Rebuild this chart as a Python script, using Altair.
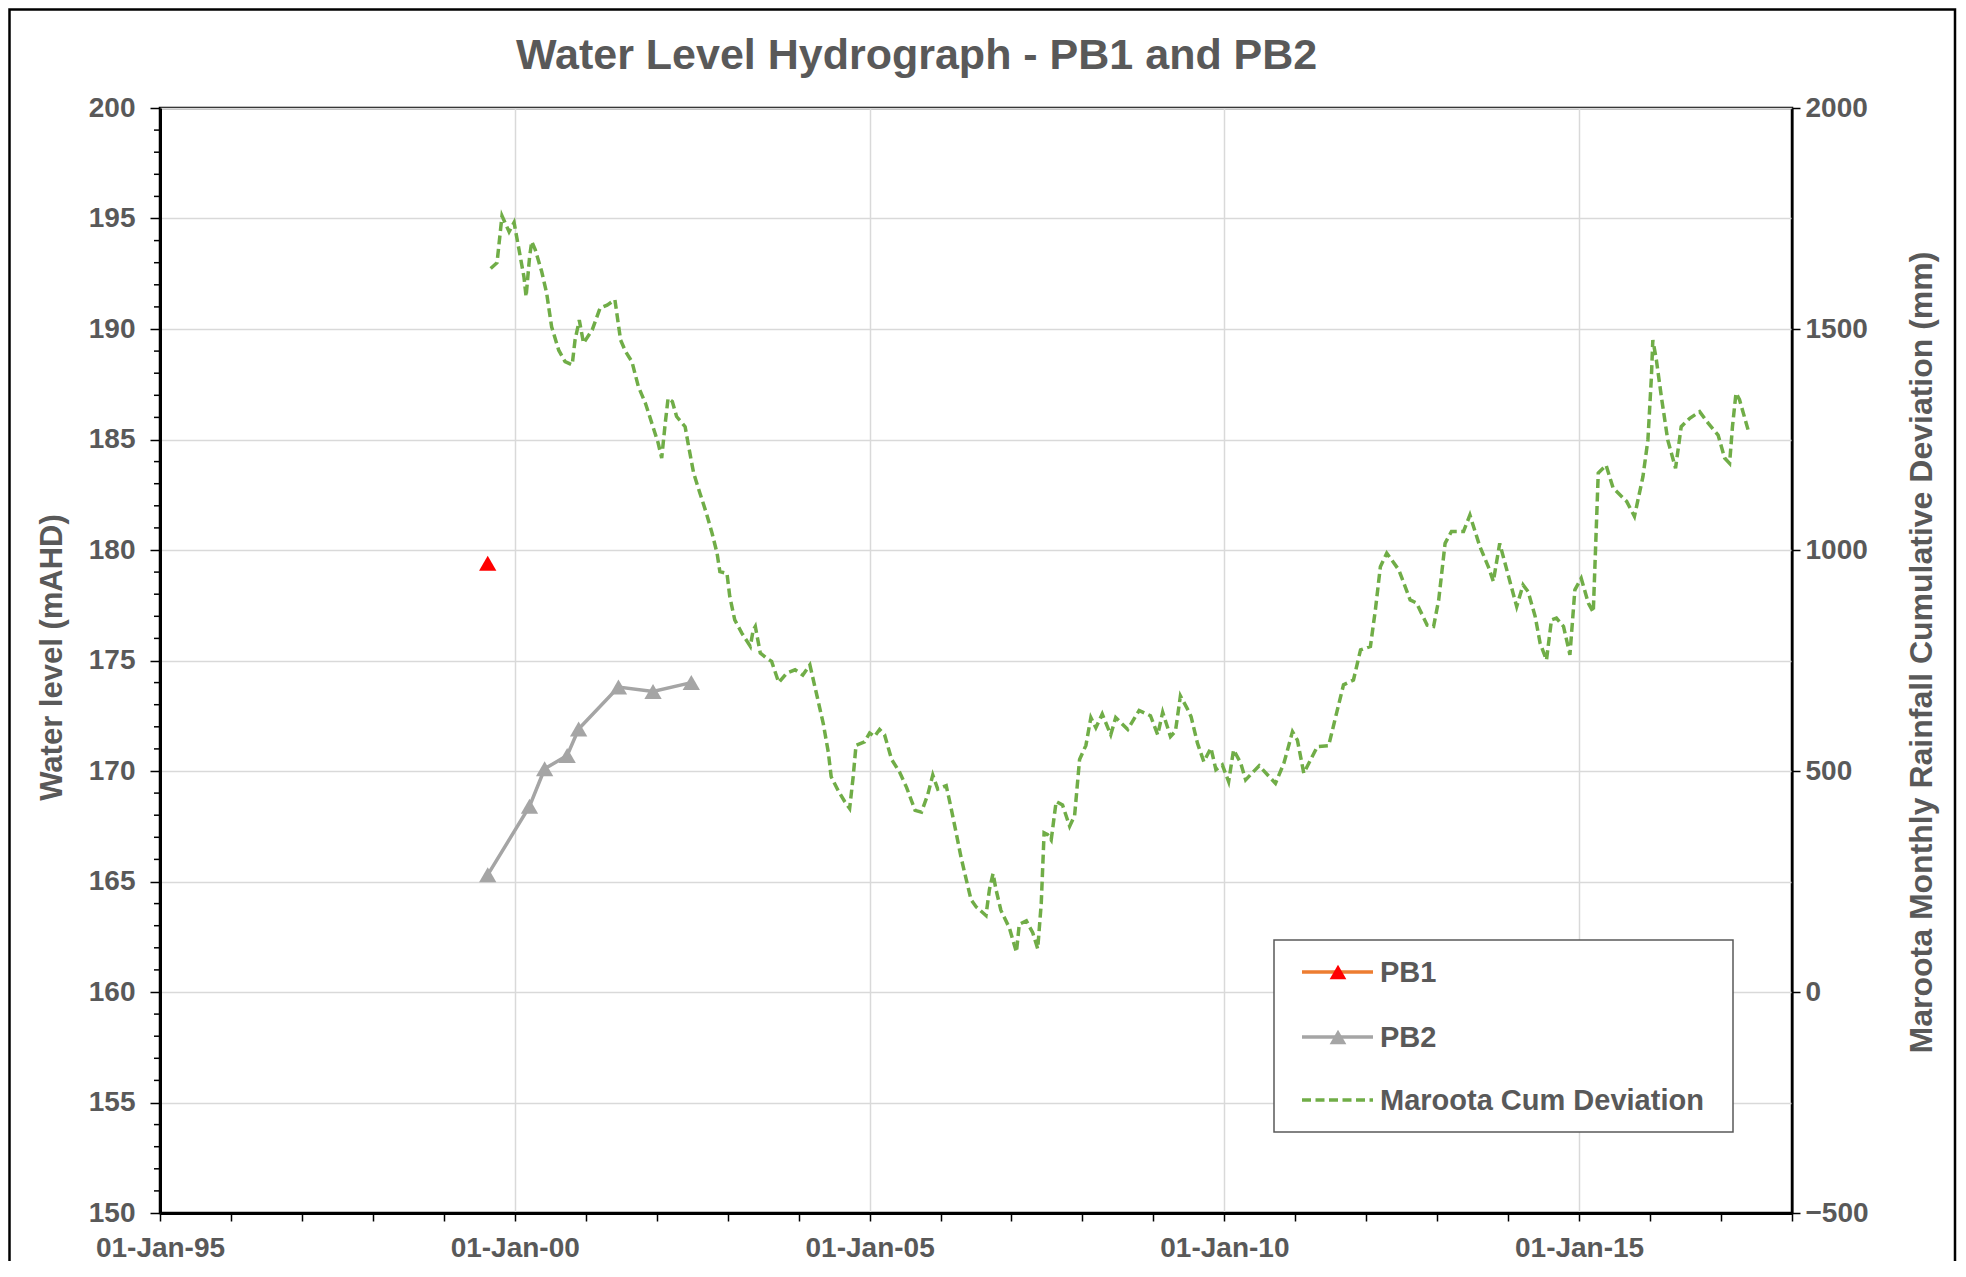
import altair as alt
import pandas as pd

TITLE = "Water Level Hydrograph - PB1 and PB2"
LEFT_TITLE = "Water level (mAHD)"
RIGHT_TITLE = "Maroota Monthly Rainfall Cumulative Deviation (mm)"
FONT = "Liberation Sans"
TEXT_COLOR = "#595959"

# ---- data ----
pb1_dates = ["1999-08-15"]
pb1_levels = [179.4]

pb2_dates = ["1999-08-15", "2000-03-17", "2000-06-03", "2000-09-27",
             "2000-11-25", "2001-06-18", "2001-12-13", "2002-06-28"]
pb2_levels = [165.3, 168.4, 170.1, 170.7, 171.9, 173.8, 173.6, 174.0]

cum_dev_years = [
    1999.66, 1999.75, 1999.82, 1999.92, 1999.99, 2000.13, 2000.16, 2000.21, 2000.24, 2000.29,
    2000.38, 2000.45, 2000.52, 2000.62, 2000.71, 2000.81, 2000.85, 2000.91, 2000.97, 2001.09,
    2001.20, 2001.30, 2001.41, 2001.49, 2001.56, 2001.65, 2001.74, 2001.84, 2001.93, 2002.02,
    2002.07, 2002.12, 2002.16, 2002.22, 2002.28, 2002.40, 2002.45, 2002.52, 2002.61, 2002.70,
    2002.78, 2002.85, 2002.89, 2002.99, 2003.03, 2003.10, 2003.20, 2003.32, 2003.36, 2003.39,
    2003.46, 2003.55, 2003.62, 2003.72, 2003.83, 2003.95, 2004.06, 2004.16, 2004.25, 2004.35,
    2004.42, 2004.46, 2004.56, 2004.65, 2004.72, 2004.77, 2004.81, 2004.93, 2005.00, 2005.07,
    2005.14, 2005.21, 2005.31, 2005.42, 2005.52, 2005.64, 2005.73, 2005.82, 2005.89, 2005.96,
    2006.08, 2006.15, 2006.22, 2006.29, 2006.36, 2006.43, 2006.50, 2006.64, 2006.69, 2006.74,
    2006.78, 2006.85, 2006.97, 2007.07, 2007.11, 2007.21, 2007.30, 2007.37, 2007.42, 2007.44,
    2007.46, 2007.51, 2007.56, 2007.63, 2007.72, 2007.82, 2007.89, 2007.96, 2008.05, 2008.12,
    2008.19, 2008.28, 2008.40, 2008.47, 2008.64, 2008.80, 2008.96, 2009.06, 2009.13, 2009.24,
    2009.31, 2009.38, 2009.48, 2009.53, 2009.62, 2009.71, 2009.81, 2009.88, 2009.97, 2010.06,
    2010.13, 2010.23, 2010.30, 2010.49, 2010.72, 2010.84, 2010.96, 2011.03, 2011.12, 2011.31,
    2011.47, 2011.57, 2011.68, 2011.82, 2011.92, 2012.06, 2012.13, 2012.20, 2012.29, 2012.46,
    2012.62, 2012.71, 2012.86, 2012.95, 2013.02, 2013.11, 2013.20, 2013.37, 2013.46, 2013.60,
    2013.72, 2013.79, 2013.88, 2013.98, 2014.12, 2014.21, 2014.28, 2014.38, 2014.45, 2014.54,
    2014.61, 2014.68, 2014.78, 2014.87, 2014.94, 2015.03, 2015.13, 2015.20, 2015.27, 2015.38,
    2015.48, 2015.67, 2015.78, 2015.90, 2015.97, 2016.02, 2016.04, 2016.09, 2016.16, 2016.25,
    2016.36, 2016.44, 2016.56, 2016.70, 2016.82, 2016.96, 2017.05, 2017.12, 2017.16, 2017.21,
    2017.26, 2017.38,
]
cum_dev_mm = [
    1637, 1650, 1756, 1720, 1741, 1618, 1573, 1664, 1698, 1679,
    1630, 1581, 1505, 1452, 1426, 1419, 1475, 1520, 1468, 1498,
    1547, 1554, 1566, 1475, 1449, 1426, 1370, 1332, 1287, 1242,
    1208, 1287, 1343, 1336, 1302, 1279, 1234, 1174, 1128, 1083,
    1038, 993, 951, 947, 895, 842, 812, 782, 819, 827,
    767, 755, 748, 700, 721, 729, 717, 740, 677, 606,
    542, 487, 455, 431, 415, 487, 558, 566, 586, 578,
    594, 582, 526, 498, 463, 411, 407, 447, 491, 459,
    467, 415, 360, 304, 256, 209, 193, 173, 233, 268,
    233, 185, 145, 90, 153, 161, 134, 98, 201, 280,
    360, 356, 344, 431, 423, 375, 399, 526, 558, 621,
    598, 629, 582, 621, 594, 637, 625, 582, 633, 578,
    590, 670, 640, 623, 563, 521, 552, 503, 514, 476,
    548, 518, 480, 512, 472, 518, 589, 570, 495, 555,
    557, 623, 695, 706, 774, 782, 865, 962, 993, 955,
    887, 880, 830, 827, 887, 1015, 1042, 1042, 1079, 1008,
    962, 929, 1015, 955, 872, 921, 906, 850, 789, 751,
    842, 846, 827, 763, 910, 936, 880, 859, 1174, 1192,
    1140, 1110, 1076, 1166, 1249, 1392, 1475, 1430, 1347, 1249,
    1185, 1279, 1298, 1313, 1287, 1260, 1208, 1196, 1279, 1355,
    1340, 1272,
]

legend_labels = ["PB1", "PB2", "Maroota Cum Deviation"]

left_major_ticks = list(range(150, 201, 5))
left_minor_ticks = [v for v in range(150, 201) if v % 5 != 0]
right_ticks = [-500, 0, 500, 1000, 1500, 2000]
x_tick_years = list(range(1995, 2019))


def year_to_date(y):
    base = pd.Timestamp(int(y), 1, 1)
    return base + pd.Timedelta(days=(y - int(y)) * 365.25)


pb1_df = pd.DataFrame({"date": pd.to_datetime(pb1_dates), "value": pb1_levels})
pb2_df = pd.DataFrame({"date": pd.to_datetime(pb2_dates), "value": pb2_levels})
cum_df = pd.DataFrame({"date": [year_to_date(y) for y in cum_dev_years], "value": cum_dev_mm})
minor_df = pd.DataFrame({"value": left_minor_ticks})

# ---- layout ----
W, H = 1632, 1105
GRID = "#D9D9D9"
LABEL_STYLE = dict(labelFont=FONT, labelFontSize=28, labelFontWeight="bold", labelColor=TEXT_COLOR)
TITLE_STYLE = dict(titleFont=FONT, titleFontSize=31, titleFontWeight="bold", titleColor=TEXT_COLOR)

x_axis = alt.Axis(
    values=[alt.DateTime(year=y, month=1, date=1) for y in x_tick_years],
    labelExpr="year(datum.value) % 5 === 0 ? timeFormat(datum.value, '%d-%b-%y') : ''",
    labelOverlap=False, labelFlush=False,
    tickSize=8, tickColor="black", tickWidth=1.5,
    labelPadding=13,
    domainColor="black", domainWidth=3,
    grid=True, gridColor=GRID, gridWidth=1.5,
    gridOpacity={"condition": {"test": "year(datum.value) % 5 === 0", "value": 1}, "value": 0},
    title=None, **LABEL_STYLE,
)
x_enc = alt.X(
    "date:T",
    scale=alt.Scale(domain=[alt.DateTime(year=1995, month=1, date=1),
                            alt.DateTime(year=2018, month=1, date=1)]),
    axis=x_axis,
)

left_axis = alt.Axis(
    orient="left", values=left_major_ticks, format="d",
    tickSize=10, tickColor="black", tickWidth=1.5,
    labelPadding=15, labelFlush=False, labelOverlap=False,
    domainColor="black", domainWidth=3,
    grid=True, gridColor=GRID, gridWidth=1.5,
    title=LEFT_TITLE, titleX=-108, titleY=549, titleAngle=270,
    titleAlign="center", titleBaseline="middle", **LABEL_STYLE, **TITLE_STYLE,
)
y_left = alt.Y("value:Q", scale=alt.Scale(domain=[150, 200], nice=False, zero=False), axis=left_axis)

right_axis = alt.Axis(
    orient="right", values=right_ticks, format="d",
    tickSize=8, tickColor="black", tickWidth=1.5,
    labelPadding=5, labelFlush=False, labelOverlap=False,
    domainColor="black", domainWidth=2, grid=False,
    title=RIGHT_TITLE, titleX=129, titleY=544, titleAngle=270,
    titleAlign="center", titleBaseline="middle",
    titleFont=FONT, titleFontSize=32, titleFontWeight="bold", titleColor=TEXT_COLOR,
    **LABEL_STYLE,
)
y_right = alt.Y("value:Q", scale=alt.Scale(domain=[-500, 2000], nice=False, zero=False), axis=right_axis)

pb2_line = alt.Chart(pb2_df).mark_line(color="#A5A5A5", strokeWidth=3.5).encode(x=x_enc, y=y_left)
pb2_pts = alt.Chart(pb2_df).mark_point(shape="triangle-up", filled=True, opacity=1,
                                       color="#A5A5A5", size=300).encode(x=x_enc, y=y_left)
pb1_pts = alt.Chart(pb1_df).mark_point(shape="triangle-up", filled=True, opacity=1,
                                       color="#FF0000", size=300).encode(x=x_enc, y=y_left)
minor_ticks = alt.Chart(minor_df).mark_rule(color="black", strokeWidth=1.5).encode(
    y=y_left, x=alt.value(-6), x2=alt.value(0))

left_layer = alt.layer(pb2_line, pb2_pts, pb1_pts, minor_ticks)

cum_line = alt.Chart(cum_df).mark_line(color="#70AD47", strokeWidth=3.5, strokeDash=[9, 4.5]).encode(
    x=x_enc, y=y_right)

# ---- frame, title and legend (decoration) ----
one = pd.DataFrame({"k": [0]})
frame = alt.Chart(one).mark_rect(filled=False, stroke="black", strokeWidth=2.5).encode(
    x=alt.value(-150.5), x2=alt.value(1795), y=alt.value(-98.5), y2=alt.value(1300))

title_df = pd.DataFrame({"t": [TITLE]})
title_mark = alt.Chart(title_df).mark_text(
    align="left", baseline="alphabetic", font=FONT, fontSize=43, fontWeight="bold",
    color=TEXT_COLOR).encode(text="t:N", x=alt.value(356), y=alt.value(-39))

legend_box = alt.Chart(one).mark_rect(fill="white", stroke="#595959", strokeWidth=1.5).encode(
    x=alt.value(1114), x2=alt.value(1573), y=alt.value(832), y2=alt.value(1024))

row_y = [864, 929, 992]
line_colors = ["#ED7D31", "#A5A5A5", "#70AD47"]
marker_colors = ["#FF0000", "#A5A5A5", None]
legend_layers = [legend_box]
for i, lab in enumerate(legend_labels):
    d = pd.DataFrame({"label": [lab]})
    rule_kwargs = dict(color=line_colors[i], strokeWidth=3.5)
    if i == 2:
        rule_kwargs["strokeDash"] = [9, 4.5]
    legend_layers.append(alt.Chart(d).mark_rule(**rule_kwargs).encode(
        x=alt.value(1142), x2=alt.value(1213), y=alt.value(row_y[i])))
    if marker_colors[i]:
        legend_layers.append(alt.Chart(d).mark_point(shape="triangle-up", filled=True, opacity=1,
                                                     color=marker_colors[i], size=280).encode(
            x=alt.value(1178), y=alt.value(row_y[i])))
    legend_layers.append(alt.Chart(d).mark_text(
        align="left", baseline="middle", font=FONT, fontSize=29, fontWeight="bold",
        color=TEXT_COLOR).encode(text="label:N", x=alt.value(1220), y=alt.value(row_y[i] + 1)))

chart = alt.layer(frame, title_mark, left_layer, cum_line, *legend_layers).resolve_scale(
    y="independent"
).properties(
    width=W, height=H,
    background="white",
    autosize=alt.AutoSizeParams(type="none"),
    padding={"left": 152, "top": 100, "right": 166, "bottom": 48},
).configure_view(
    stroke="black", strokeWidth=2.5
)

chart.save("out.html", embed_options={"renderer": "svg", "actions": False})
